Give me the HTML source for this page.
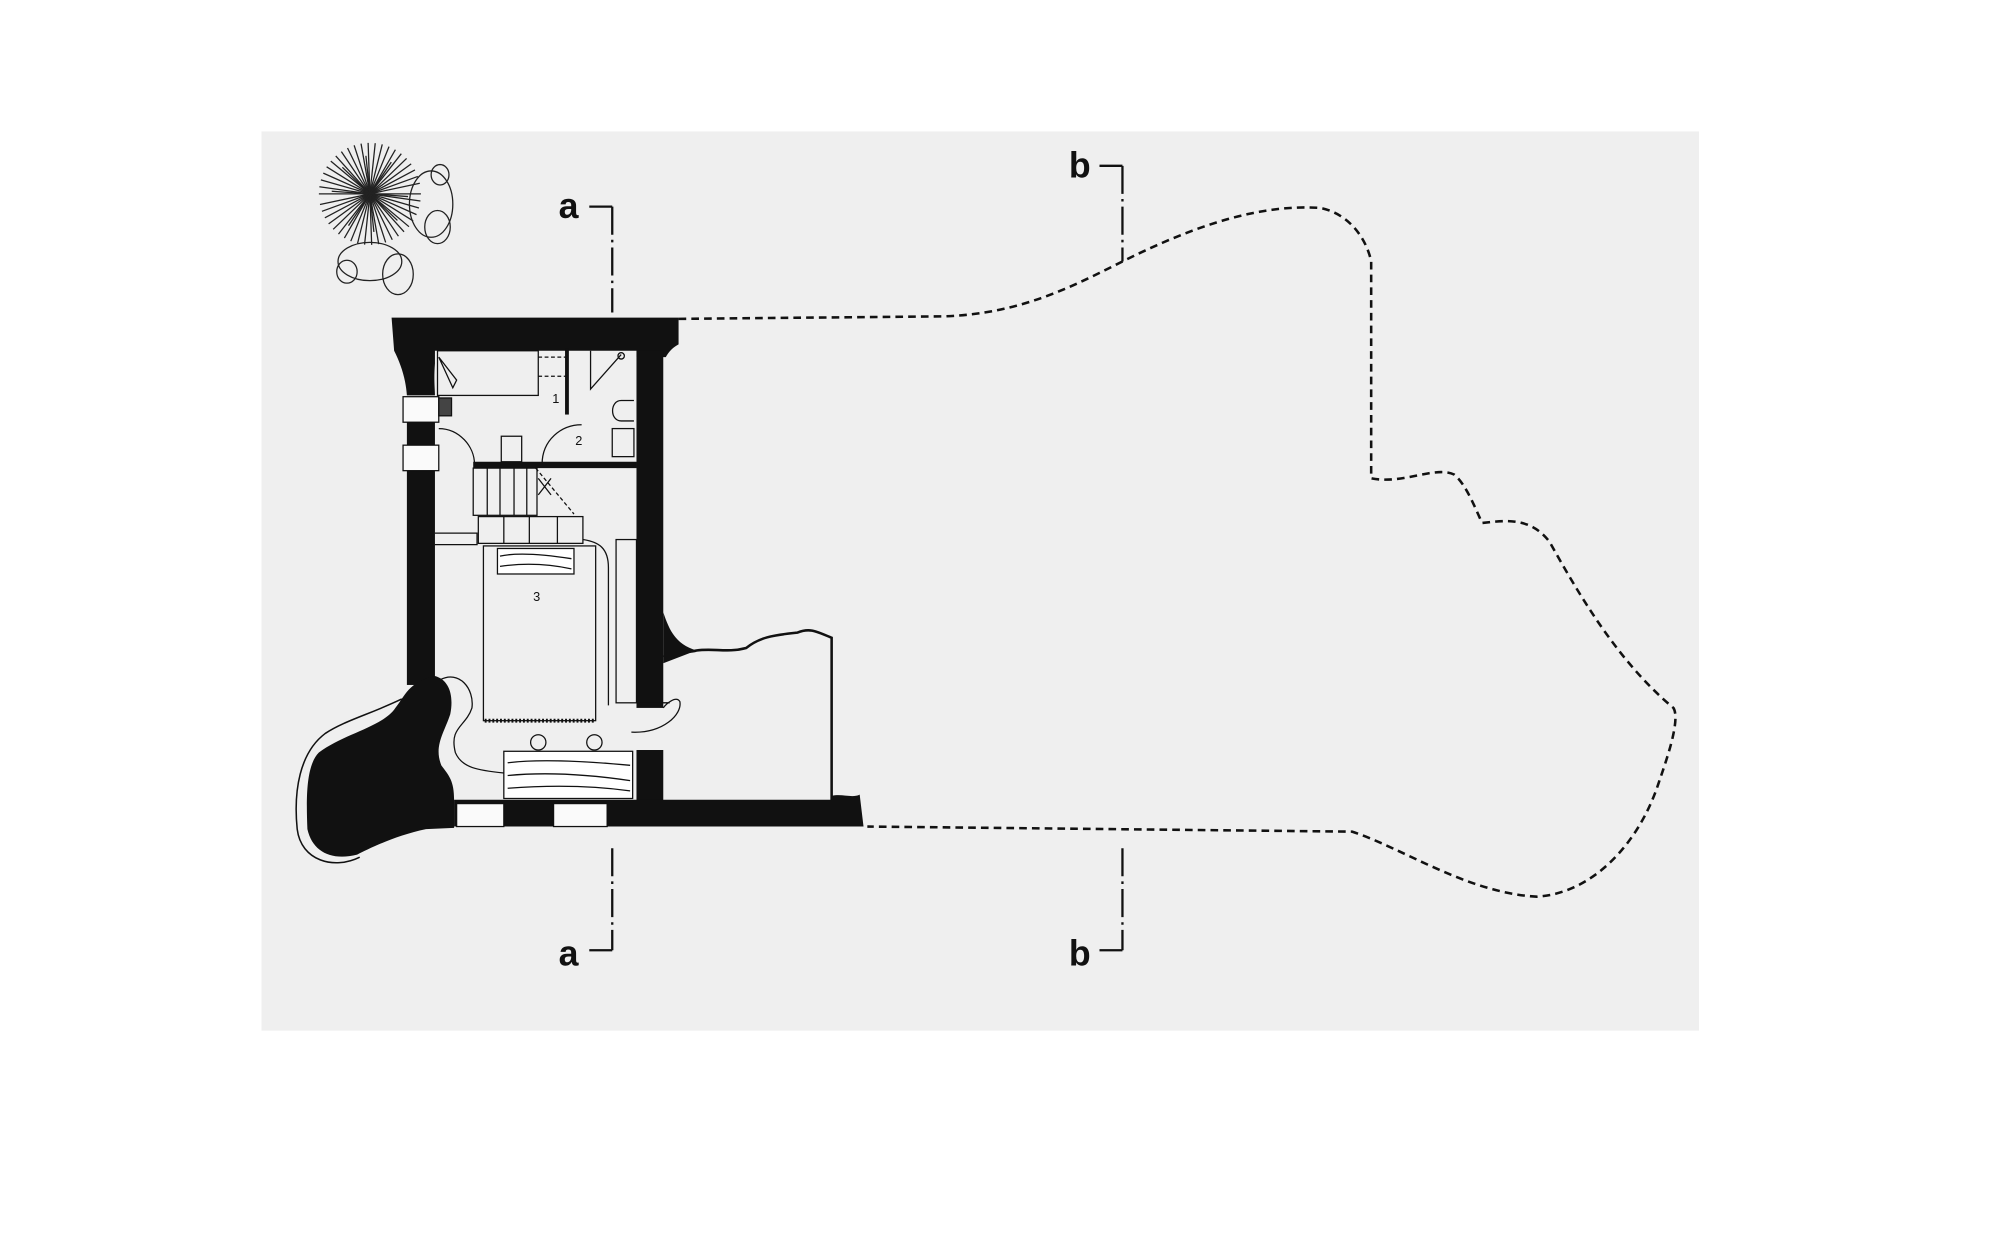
<!DOCTYPE html>
<html><head><meta charset="utf-8"><style>
html,body{margin:0;padding:0;background:#fff;}
svg{display:block;}
text{font-family:"Liberation Sans",sans-serif;}
</style></head><body>
<svg width="2000" height="1249" viewBox="0 0 1568 979.2" xmlns="http://www.w3.org/2000/svg">
<rect x="0" y="0" width="1568" height="980" fill="#ffffff"/>
<rect x="205" y="103" width="1127" height="705" fill="#efefef"/>

<!-- tree -->
<g stroke="#222" stroke-width="1" transform="translate(290,152)">
<line x1="-40" y1="0" x2="40" y2="0"/>
<line x1="-40" y1="0" x2="40" y2="0" transform="rotate(8)"/>
<line x1="-40" y1="0" x2="40" y2="0" transform="rotate(16)"/>
<line x1="-40" y1="0" x2="40" y2="0" transform="rotate(24)"/>
<line x1="-40" y1="0" x2="40" y2="0" transform="rotate(32)"/>
<line x1="-40" y1="0" x2="40" y2="0" transform="rotate(40)"/>
<line x1="-40" y1="0" x2="40" y2="0" transform="rotate(48)"/>
<line x1="-40" y1="0" x2="40" y2="0" transform="rotate(56)"/>
<line x1="-40" y1="0" x2="40" y2="0" transform="rotate(64)"/>
<line x1="-40" y1="0" x2="40" y2="0" transform="rotate(72)"/>
<line x1="-40" y1="0" x2="40" y2="0" transform="rotate(80)"/>
<line x1="-40" y1="0" x2="40" y2="0" transform="rotate(88)"/>
<line x1="-40" y1="0" x2="40" y2="0" transform="rotate(96)"/>
<line x1="-40" y1="0" x2="40" y2="0" transform="rotate(104)"/>
<line x1="-40" y1="0" x2="40" y2="0" transform="rotate(112)"/>
<line x1="-40" y1="0" x2="40" y2="0" transform="rotate(120)"/>
<line x1="-40" y1="0" x2="40" y2="0" transform="rotate(128)"/>
<line x1="-40" y1="0" x2="40" y2="0" transform="rotate(136)"/>
<line x1="-40" y1="0" x2="40" y2="0" transform="rotate(144)"/>
<line x1="-40" y1="0" x2="40" y2="0" transform="rotate(152)"/>
<line x1="-40" y1="0" x2="40" y2="0" transform="rotate(160)"/>
<line x1="-40" y1="0" x2="40" y2="0" transform="rotate(168)"/>
<line x1="-30" y1="0" x2="30" y2="0" transform="rotate(4)"/>
<line x1="-30" y1="0" x2="30" y2="0" transform="rotate(44)"/>
<line x1="-30" y1="0" x2="30" y2="0" transform="rotate(84)"/>
<line x1="-30" y1="0" x2="30" y2="0" transform="rotate(124)"/>
</g>
<g fill="none" stroke="#222" stroke-width="1">
<ellipse cx="345" cy="137" rx="7" ry="8"/>
<ellipse cx="338" cy="160" rx="17" ry="26"/>
<ellipse cx="343" cy="178" rx="10" ry="13"/>
<ellipse cx="290" cy="205" rx="25" ry="15"/>
<ellipse cx="272" cy="213" rx="8" ry="9"/>
<ellipse cx="312" cy="215" rx="12" ry="16"/>
</g>

<!-- section marks -->
<g stroke="#111" stroke-width="1.8" fill="none">
<path d="M480 162 V245" stroke-dasharray="22 4 2 4"/>
<path d="M480 665 V745" stroke-dasharray="22 4 2 4"/>
<path d="M880 130 V205" stroke-dasharray="22 4 2 4"/>
<path d="M880 665 V745" stroke-dasharray="22 4 2 4"/>
<path d="M462 162 H480 M462 745 H480 M862 130 H880 M862 745 H880"/>
</g>
<g font-size="28" font-weight="bold" fill="#111">
<text x="438" y="171">a</text>
<text x="438" y="757">a</text>
<text x="838" y="139">b</text>
<text x="838" y="757">b</text>
</g>

<!-- dashed site outline -->
<path d="M532 250 L740 248 C800 246 840 225 880 205 C940 175 990 160 1035 163 C1060 168 1072 190 1075 205 L1075 375 C1100 380 1125 365 1140 372 C1150 380 1158 402 1162 410 C1180 408 1200 405 1215 425 C1240 470 1270 520 1312 555 C1318 565 1305 600 1300 615 C1285 660 1250 700 1205 703 C1150 700 1100 665 1060 652 L680 648" fill="none" stroke="#111" stroke-width="2" stroke-dasharray="6 4"/>

<!-- annex interior outline -->
<path d="M520 515 C530 510 540 512 546 510 C560 508 570 512 585 508 C595 500 605 498 625 496 C635 492 640 495 652 500 L652 632" fill="none" stroke="#111" stroke-width="2"/>

<!-- walls (black) -->
<g fill="#111">
<path d="M307 249 H532 V270 C528 272 524 276 522 280 H499 V275 H341 V285 C340 298 341 305 341 310 H319 C318 296 314 285 309 275 Z"/>
<rect x="319" y="331" width="22" height="18"/>
<rect x="319" y="369" width="22" height="168"/>
<rect x="499" y="275" width="21" height="280"/>
<path d="M520 480 C525 495 530 505 546 510 L520 520 Z"/>
<rect x="499" y="588" width="21" height="40"/>
<rect x="371" y="362" width="128" height="5"/>
<rect x="443" y="273" width="3" height="52"/>
<path d="M356 627 H652 V624 C660 622 668 626 674 623 L677 648 H356 Z"/>
<path d="M341 530 C352 533 356 545 353 560 C348 575 340 585 346 600 C352 608 356 612 356 627 L356 649 L334 650 C310 655 290 665 280 670 C260 675 245 668 241 650 C240 625 240 600 250 590 C270 575 300 570 310 555 C318 545 320 535 341 530 Z"/>
</g>
<path d="M315 548 C290 560 270 565 255 575 C235 590 230 620 233 650 C236 675 262 682 282 672" fill="none" stroke="#111" stroke-width="1.2"/>

<!-- windows -->
<g fill="#fafafa" stroke="#111" stroke-width="1">
<rect x="316" y="311" width="28" height="20"/>
<rect x="316" y="349" width="28" height="20"/>
<rect x="358" y="630" width="37" height="18"/>
<rect x="434" y="630" width="42" height="18"/>
</g>

<g fill="none" stroke="#111" stroke-width="1">
<rect x="343" y="275" width="79" height="35"/>
<path d="M422 280 H444 M422 295 H444" stroke-dasharray="3 2"/>
<path d="M344 280 L355 304 L358 298 Z"/>
<rect x="344" y="312" width="10" height="14" fill="#444"/>
<path d="M344 336 C360 336 372 350 372 364"/>
<path d="M425 364 C425 345 440 333 456 333"/>
<rect x="393" y="342" width="16" height="20"/>
<path d="M463 275 V305 L487 278"/>
<circle cx="487" cy="279" r="2.5"/>
<path d="M497 314 H487 C478 314 478 330 487 330 H497"/>
<rect x="480" y="336" width="17" height="22"/>
<rect x="371" y="367" width="50" height="37"/>
<path d="M382 367 V404 M392 367 V404 M403 367 V404 M413 367 V404"/>
<path d="M420 367 L450 403" stroke-dasharray="3 2"/>
<path d="M422 375 L432 388 M432 375 L422 388"/>
<rect x="375" y="405" width="82" height="21"/>
<path d="M395 405 V426 M415 405 V426 M437 405 V426"/>
<path d="M341 418 H374 V427 H341"/>
<rect x="379" y="428" width="88" height="137"/>
<rect x="390" y="430" width="60" height="20" fill="#fff"/>
<path d="M392 436 Q410 432 448 438 M392 444 Q420 440 448 446" />
<path d="M380 565 H467" stroke-dasharray="1.5 1.5" stroke-width="3"/>
<path d="M457 423 C470 425 477 430 477 445 V553"/>
<rect x="483" y="423" width="16" height="128"/>
<circle cx="422" cy="582" r="6"/>
<circle cx="466" cy="582" r="6"/>
<rect x="395" y="589" width="101" height="37" fill="#fff"/>
<path d="M398 598 Q430 594 494 600 M398 608 Q440 604 494 612 M398 618 Q450 614 494 620"/>
<path d="M345 533 C360 525 372 540 370 555 C365 570 352 570 357 590 C362 602 375 604 395 606"/>
<path d="M495 574 C520 575 535 560 533 550 C530 545 522 552 520 555"/>
<path d="M500 551 H525"/>
</g>
<g font-size="10" fill="#111">
<text x="433" y="316">1</text>
<text x="451" y="349">2</text>
<text x="418" y="471">3</text>
</g>
</svg>
</body></html>
